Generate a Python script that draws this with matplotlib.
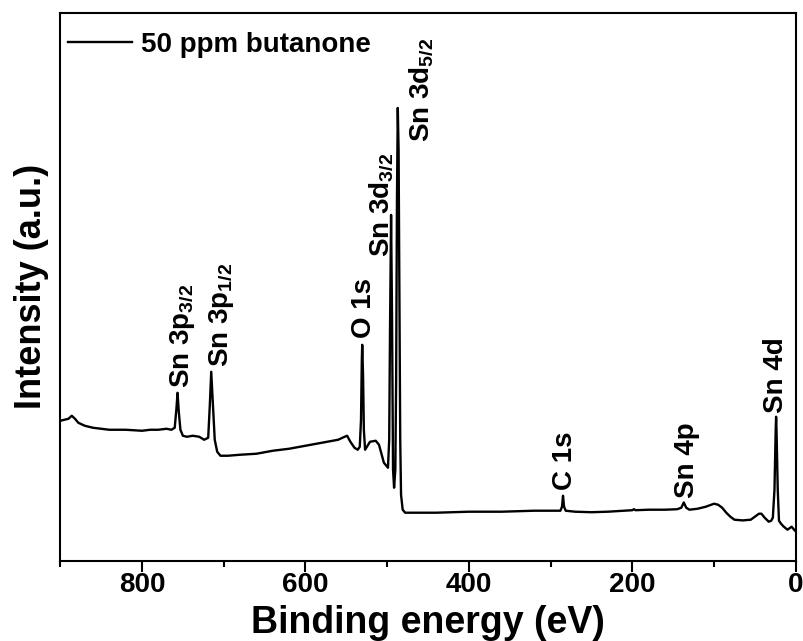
import matplotlib.pyplot as plt

# Datos del espectro XPS (energía de enlace en eV, intensidad en cps)
energia = [900, 895, 890, 886, 882, 878, 870, 860, 850, 840, 820, 800, 790, 780, 770, 764,
           760, 758, 756.5, 755, 753, 750, 745, 738, 730, 724, 719, 717, 715.3, 713.5, 711,
           708, 704, 695, 680, 660, 640, 620, 600, 580, 560, 552, 549, 545, 540, 536, 533.5,
           532, 531, 530.5, 529.5, 528.5, 527, 521, 514, 510, 504, 499, 497.5, 496.5, 495.2,
           494, 492.8, 491.5, 490, 489, 488, 487, 486, 485, 484, 483, 481, 478, 460, 440,
           420, 400, 380, 360, 340, 320, 300, 288, 286, 284.8, 283.5, 281.5, 270, 250, 230,
           210, 200, 198, 196, 180, 160, 145, 140, 137, 134, 130, 120, 110, 100, 95, 90, 85,
           80, 75, 65, 55, 50, 45, 42, 38, 33, 30, 28, 26, 24.5, 24, 23.5, 22, 20.5, 18, 15,
           10, 5, 2, 0]
intensidad = [14000, 14100, 14200, 14500, 14200, 13800, 13500, 13300, 13200, 13100, 13100,
              13000, 13100, 13100, 13200, 13100, 13300, 15100, 16800, 14900, 13100, 12500,
              12400, 12500, 12400, 12100, 12300, 15600, 18900, 16100, 12100, 10900, 10500,
              10500, 10600, 10700, 11000, 11200, 11500, 11800, 12100, 12400, 12500, 11900,
              11300, 11100, 11400, 14100, 20100, 21600, 18600, 13100, 11100, 11900, 12000,
              11600, 9800, 9300, 12100, 23100, 34600, 24100, 9100, 7300, 9100, 18100, 36100,
              45300, 41100, 26100, 12100, 6600, 5100, 4800, 4800, 4800, 4850, 4900, 4900, 4900,
              4950, 5000, 5000, 5000, 5400, 6500, 5400, 5000, 4900, 4850, 4900, 5000, 5050,
              5150, 5050, 5100, 5100, 5150, 5300, 5830, 5300, 5100, 5200, 5400, 5700, 5600,
              5300, 4800, 4400, 4100, 4030, 4100, 4400, 4700, 4700, 4300, 3900, 4000, 4300,
              7100, 13100, 14400, 13100, 7100, 4000, 3700, 3430, 3100, 3400, 3100, 2930]

# Etiquetas de los picos y su posición (x en eV, base en y)
picos = ['Sn 3p$_{3/2}$', 'Sn 3p$_{1/2}$', 'O 1s', 'Sn 3d$_{3/2}$', 'Sn 3d$_{5/2}$',
         'C 1s', 'Sn 4p', 'Sn 4d']
picos_x = [750, 703, 528, 508, 459, 282, 133, 24]
picos_y = [17300, 19400, 22300, 30400, 41900, 7100, 6300, 14800]

ticks_x = [800, 600, 400, 200, 0]

plt.rcParams['font.family'] = ['Liberation Sans', 'DejaVu Sans']
plt.rcParams['mathtext.fontset'] = 'custom'
plt.rcParams['mathtext.rm'] = 'Liberation Sans:bold'
plt.rcParams['mathtext.it'] = 'Liberation Sans:bold'
plt.rcParams['mathtext.default'] = 'rm'

fig = plt.figure(figsize=(8.04, 6.41), dpi=100)
ax = fig.add_axes([0.075, 0.1253, 0.9147, 0.8544])

ax.plot(energia, intensidad, color='black', linewidth=1.7, label='50 ppm butanone')

for texto, x, y in zip(picos, picos_x, picos_y):
    ax.text(x, y, texto, rotation=90, ha='center', va='bottom', fontsize=20, fontweight='bold')

ax.set_xlim(900, 0)
ax.set_ylim(0, 54800)
ax.set_xticks(ticks_x)
ax.set_xticks([900, 700, 500, 300, 100], minor=True)
ax.set_yticks([])
ax.tick_params(axis='x', which='major', direction='out', length=8, width=1.5, pad=0)
ax.tick_params(axis='x', which='minor', direction='out', length=4.5, width=1.5)
for lab in ax.get_xticklabels():
    lab.set_fontweight('bold')
    lab.set_fontsize(20)
for sp in ax.spines.values():
    sp.set_linewidth(1.5)

ax.set_xlabel('Binding energy (eV)', fontsize=27, fontweight='bold', labelpad=5)
ax.set_ylabel('Intensity (a.u.)', fontsize=26, fontweight='bold', labelpad=8)

ax.legend(loc='upper left', bbox_to_anchor=(-0.006, 0.989), frameon=False,
          prop={'weight': 'bold', 'size': 20},
          handlelength=2.3, handletextpad=0.3, borderaxespad=0.1, borderpad=0.35)

fig.savefig('out.png', dpi=100)
